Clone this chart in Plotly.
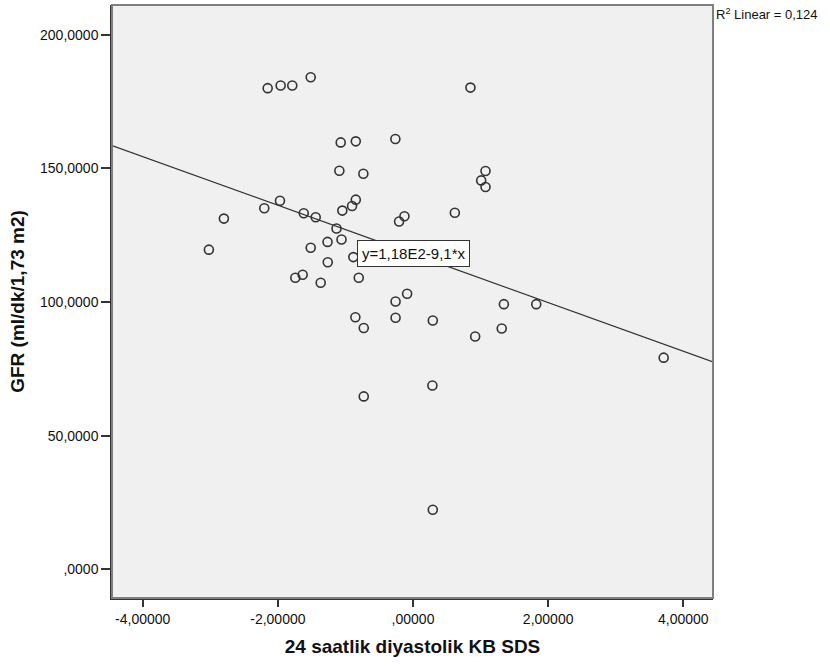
import plotly.graph_objects as go

# Data (x: 24 saatlik diyastolik KB SDS, y: GFR)
kb_sds = [-2.151, -1.959, -1.787, -1.514, 0.850, -1.070, -0.847, -0.261, -1.090, -0.735,
          1.073, 1.009, 1.073, -1.969, -2.201, -2.799, -1.617, -1.440, -1.046, -0.902,
          -0.847, -1.132, -0.206, -0.127, 0.619, -1.265, -1.058, -3.021, -1.514, -1.262,
          -0.883, -1.742, -1.633, -1.366, -0.803, -0.087, -0.258, -0.258, -0.853, -0.729,
          0.293, 1.345, 1.824, 1.313, 0.920, 3.710, -0.729, 0.287, 0.293]
gfr = [180.0, 181.0, 181.0, 184.1, 180.2, 159.7, 160.1, 161.0, 149.1, 148.0,
       149.0, 145.5, 143.0, 137.9, 135.1, 131.2, 133.2, 131.7, 134.2, 135.9,
       138.3, 127.5, 130.1, 132.1, 133.4, 122.5, 123.4, 119.6, 120.3, 114.9,
       116.8, 109.1, 110.2, 107.2, 109.1, 103.1, 100.2, 94.1, 94.3, 90.3,
       93.1, 99.2, 99.2, 90.1, 87.1, 79.2, 64.7, 68.8, 22.3]

# Fit line as reported: y = 1,18E2 - 9,1*x
fit_intercept = 118.0
fit_slope = -9.1
fit_label = "y=1,18E2-9,1*x"
r2_label = "R<sup>2</sup> Linear = 0,124"

x_range = [-4.455, 4.44]
y_range = [-10.7, 211.1]

x_tickvals = [-4, -2, 0, 2, 4]
x_ticktext = ["-4,00000", "-2,00000", ",00000", "2,00000", "4,00000"]
y_tickvals = [0, 50, 100, 150, 200]
y_ticktext = [",0000", "50,0000", "100,0000", "150,0000", "200,0000"]

x_title = "24 saatlik diyastolik KB SDS"
y_title = "GFR (ml/dk/1,73 m2)"

FONT = "Liberation Sans, Arial, sans-serif"

fig = go.Figure()

fit_x = x_range
fit_y = [fit_intercept + fit_slope * v for v in fit_x]
fig.add_trace(go.Scatter(x=fit_x, y=fit_y, mode="lines",
                         line=dict(color="#333333", width=1.3),
                         hoverinfo="skip", showlegend=False))

fig.add_trace(go.Scatter(x=kb_sds, y=gfr, mode="markers",
                         marker=dict(symbol="circle-open", size=9,
                                     color="#333333", line=dict(width=1.6, color="#333333")),
                         showlegend=False))

fig.add_annotation(x=0, y=fit_intercept, xref="x", yref="y", text=fit_label,
                   showarrow=False, xanchor="center", yanchor="middle",
                   font=dict(family=FONT, size=15, color="#111111"),
                   bgcolor="white", bordercolor="#333333", borderwidth=1, borderpad=4)

fig.add_annotation(x=1, y=1, xref="paper", yref="paper", text=r2_label,
                   showarrow=False, xanchor="left", yanchor="top", xshift=1, yshift=1,
                   font=dict(family=FONT, size=13, color="#111111"))

fig.add_shape(type="rect", xref="paper", yref="paper", x0=0, x1=1, y0=0, y1=1,
              line=dict(color="#7f7f7f", width=2), layer="above")

fig.update_layout(
    width=830, height=666,
    margin=dict(l=112, r=117, t=5, b=68),
    paper_bgcolor="white",
    plot_bgcolor="#f0f0f0",
    font=dict(family=FONT, size=14, color="#111111"),
    showlegend=False,
)

fig.update_xaxes(range=x_range, tickvals=x_tickvals, ticktext=x_ticktext,
                 showgrid=False, zeroline=False,
                 showline=True, linecolor="#333333", linewidth=1.5,
                 ticks="outside", ticklen=7, tickwidth=1.5, tickcolor="#333333",
                 tickfont=dict(family=FONT, size=14, color="#111111"),
                 title=dict(text="<b>" + x_title + "</b>",
                            font=dict(family=FONT, size=19, color="#111111"),
                            standoff=14))

fig.update_yaxes(range=y_range, tickvals=y_tickvals, ticktext=y_ticktext,
                 showgrid=False, zeroline=False,
                 showline=True, linecolor="#333333", linewidth=1.5,
                 ticks="outside", ticklen=9, tickwidth=1.5, tickcolor="#333333",
                 tickfont=dict(family=FONT, size=14, color="#111111"),
                 title=dict(text="<b>" + y_title + "</b>",
                            font=dict(family=FONT, size=19, color="#111111"),
                            standoff=10))

fig.write_html("out.html",
               config={"displayModeBar": False},
               post_script="document.body.style.margin='0px';document.body.style.overflow='hidden';")
